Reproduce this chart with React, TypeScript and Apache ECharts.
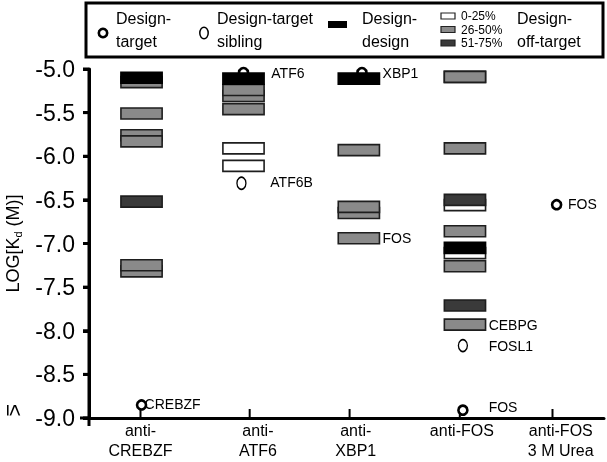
import React, { useEffect, useRef } from "react";
import * as echarts from "echarts";

// ---- data ----
const categories = ["anti-\nCREBZF", "anti-\nATF6", "anti-\nXBP1", "anti-FOS", "anti-FOS\n3 M Urea"];
const tickX = [1.0, 2.06, 3.03, 4.1, 5.0];
const labelX = [1.0, 2.14, 3.09, 4.12, 5.08];
const columnX = [1.01, 2.0, 3.12, 4.15, 4.81];
const yTicks = [-9.0, -8.5, -8.0, -7.5, -7.0, -6.5, -6.0, -5.5, -5.0];

// bars (draw order matters: later ones overlap earlier ones)
// class: 0 = 0-25% (white), 1 = 26-50% (gray), 2 = 51-75% (dark), 3 = design-design (black)
const barColumn = [0, 0, 0, 0, 0, 0, 0, 0, 1, 1, 1, 1, 1, 1, 2, 2, 2, 2, 2, 3, 3, 3, 3, 3, 3, 3, 3, 3, 3, 3, 4];
const barLogKd = [
  -5.15, -5.1, -5.51, -5.76, -5.83, -6.52, -7.32, -7.25,
  -5.46, -5.31, -5.24, -5.11, -5.91, -6.11,
  -5.11, -5.93, -6.65, -6.58, -6.94,
  -5.09, -5.91, -6.56, -6.5, -6.86, -7.11, -7.05, -7.26, -7.71, -7.93,
  -5.09,
];
const barClass = [
  1, 3, 1, 1, 1, 2, 1, 1,
  1, 1, 1, 3, 0, 0,
  3, 1, 1, 1, 1,
  1, 1, 0, 2, 1, 0, 3, 1, 2, 1,
  1,
];

// design-target points
const targetX = [1.01, 2.0, 3.15, 4.13, 5.04];
const targetLogKd = [-8.85, -5.04, -5.04, -8.91, -6.555];
// design-target sibling points
const siblingX = [1.98, 4.13];
const siblingLogKd = [-6.31, -8.17];

// annotations
const annText = ["CREBZF", "ATF6", "ATF6B", "XBP1", "FOS", "CEBPG", "FOSL1", "FOS", "FOS"];
const annX = [1.04, 2.27, 2.26, 3.35, 3.35, 4.38, 4.38, 4.38, 5.15];
const annLogKd = [-8.84, -5.05, -6.3, -5.05, -6.94, -7.93, -8.18, -8.87, -6.55];

const legendFill = ["#ffffff", "#8a8a8a", "#3a3a3a", "#000000"];
const legendRanges = ["0-25%", "26-50%", "51-75%"];

const FONT = "'Liberation Sans', Arial, sans-serif";
const BAR_W = 0.4;
const BAR_H = 0.126;

export default function App() {
  const ref = useRef<HTMLDivElement>(null);
  useEffect(() => {
    if (!ref.current) return;
    const chart = echarts.init(ref.current, null, { renderer: "svg" });

    const barData = barLogKd.map((v, i) => [columnX[barColumn[i]], v, barClass[i]]);
    const annData = annLogKd.map((v, i) => [annX[i], v, i]);

    const option: any = {
      animation: false,
      grid: { left: 89, right: 3, top: 69, bottom: 44, containLabel: false, outerBoundsMode: "none" },
      xAxis: {
        type: "value",
        min: 0.5,
        max: 5.5,
        splitLine: { show: false },
        axisLine: { show: true, onZero: false, lineStyle: { color: "#000", width: 3 } },
        axisTick: { show: false },
        axisLabel: {
          customValues: labelX,
          margin: 2,
          color: "#000",
          fontFamily: FONT,
          fontSize: 16,
          lineHeight: 20,
          formatter: (v: number) => {
            let best = 0;
            labelX.forEach((x, i) => { if (Math.abs(x - v) < Math.abs(labelX[best] - v)) best = i; });
            return categories[best];
          },
        },
      },
      yAxis: {
        type: "value",
        min: -9,
        max: -5,
        interval: 0.5,
        splitLine: { show: false },
        axisLine: { show: true, onZero: false, lineStyle: { color: "#000", width: 3 } },
        axisTick: { show: true, length: 6, lineStyle: { color: "#000", width: 3 } },
        axisLabel: {
          margin: 14,
          color: "#000",
          fontFamily: FONT,
          fontSize: 23,
          formatter: (v: number) => v.toFixed(1),
        },
        name: "LOG[K{d|d} (M)]",
        nameLocation: "middle",
        nameRotate: 90,
        nameGap: 66,
        nameTextStyle: {
          color: "#000",
          fontFamily: FONT,
          fontSize: 18,
          rich: {
            d: { fontSize: 11, fontFamily: FONT, color: "#000", padding: [9, 0, 0, 0] },
          },
        },
      },
      series: [
        {
          type: "scatter",
          z: 2,
          data: targetX.map((x, i) => [x, targetLogKd[i]]),
          symbol: "circle",
          symbolSize: 9,
          itemStyle: { color: "#fff", borderColor: "#000", borderWidth: 2.6, opacity: 1 },
        },
        {
          type: "scatter",
          z: 2,
          data: siblingX.map((x, i) => [x, siblingLogKd[i]]),
          symbol: "circle",
          symbolSize: [9, 12],
          itemStyle: { color: "#fff", borderColor: "#000", borderWidth: 1.5, opacity: 1 },
        },
        {
          type: "custom",
          z: 3,
          data: barData,
          renderItem: (params: any, api: any) => {
            const c = api.coord([api.value(0), api.value(1)]);
            const s = api.size([BAR_W, BAR_H]);
            const cls = api.value(2);
            return {
              type: "rect",
              shape: { x: c[0] - s[0] / 2, y: c[1] - s[1] / 2, width: s[0], height: s[1] },
              style: { fill: legendFill[cls], stroke: cls === 3 ? "#000" : "#1e1e1e", lineWidth: 1.6 },
            };
          },
        },
        {
          type: "custom",
          z: 4,
          data: annData,
          renderItem: (params: any, api: any) => {
            const c = api.coord([api.value(0), api.value(1)]);
            return {
              type: "text",
              x: c[0],
              y: c[1],
              style: { text: annText[params.dataIndex], font: `14px ${FONT}`, fill: "#000", verticalAlign: "middle", align: "left" },
            };
          },
        },
      ],
    };
    chart.setOption(option);

    // axis lines & ticks placed through the chart's own scales
    const px = (v: number) => chart.convertToPixel({ xAxisIndex: 0 }, v) as number;
    const py = (v: number) => chart.convertToPixel({ yAxisIndex: 0 }, v) as number;
    const x0 = px(0.5);
    const yTop = py(-5);
    const yBot = py(-9);

    const axisGraphics: any[] = [
      { type: "line", shape: { x1: x0, y1: yTop, x2: x0, y2: yBot + 8 }, style: { stroke: "#000", lineWidth: 3 } },
      { type: "line", shape: { x1: x0 - 9, y1: yBot, x2: x0, y2: yBot }, style: { stroke: "#000", lineWidth: 3 } },
      { type: "text", x: 14, y: yBot - 8, rotation: -Math.PI / 2, style: { text: "≤", font: `22px ${FONT}`, fill: "#000", align: "center", verticalAlign: "middle" } },
    ];
    yTicks.forEach((v) => {
      const y = py(v);
      axisGraphics.push({ type: "line", shape: { x1: x0 - 6, y1: y, x2: x0, y2: y }, style: { stroke: "#000", lineWidth: 3 } });
    });
    tickX.forEach((v) => {
      const x = px(v);
      axisGraphics.push({ type: "line", shape: { x1: x, y1: yBot, x2: x, y2: yBot - 9 }, style: { stroke: "#000", lineWidth: 2 } });
    });

    const txt = (x: number, text: string) => ({
      type: "text", x, y: 30,
      style: { text, font: `16px ${FONT}`, fill: "#000", lineHeight: 23, verticalAlign: "middle" },
    });
    const legendGraphics: any[] = [
      { type: "rect", shape: { x: 86, y: 3, width: 517, height: 54 }, style: { fill: "#fff", stroke: "#000", lineWidth: 3 } },
      { type: "circle", shape: { cx: 103, cy: 33, r: 4.2 }, style: { fill: "#fff", stroke: "#000", lineWidth: 2.6 } },
      txt(116, "Design-\ntarget"),
      { type: "ellipse", shape: { cx: 204, cy: 33, rx: 4.2, ry: 5.8 }, style: { fill: "#fff", stroke: "#000", lineWidth: 1.5 } },
      txt(217, "Design-target\nsibling"),
      { type: "rect", shape: { x: 328, y: 21, width: 19, height: 7 }, style: { fill: "#000" } },
      txt(362, "Design-\ndesign"),
      txt(517, "Design-\noff-target"),
    ];
    legendRanges.forEach((t, i) => {
      legendGraphics.push({ type: "rect", shape: { x: 441, y: 13 + i * 13.5, width: 14, height: 6 }, style: { fill: legendFill[i], stroke: "#222", lineWidth: 1.2 } });
      legendGraphics.push({ type: "text", x: 461, y: 16 + i * 13.5, style: { text: t, font: `12px ${FONT}`, fill: "#000", verticalAlign: "middle" } });
    });

    chart.setOption({ graphic: [...legendGraphics, ...axisGraphics] });
    return () => chart.dispose();
  }, []);

  return <div ref={ref} style={{ position: "fixed", left: 0, top: 0, width: 607, height: 462 }} />;
}
